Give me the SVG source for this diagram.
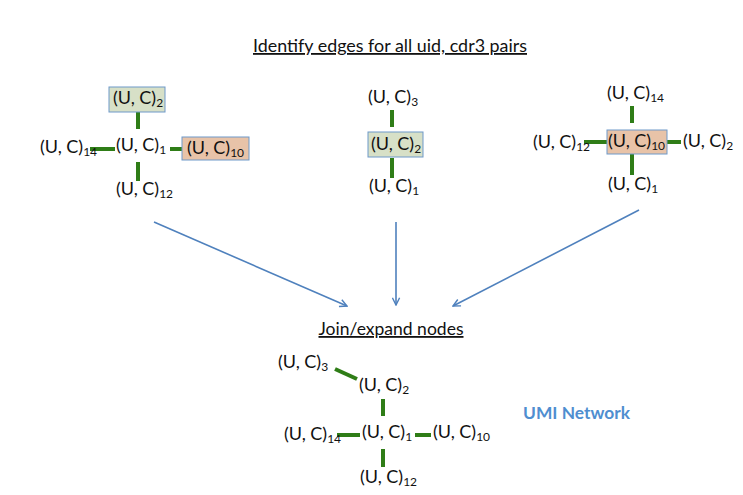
<svg xmlns="http://www.w3.org/2000/svg" width="743" height="495" viewBox="0 0 743 495">
<defs>
<style>
text{font-family:Lato,"Open Sans","Liberation Sans",sans-serif;font-size:18px;fill:#111}
.sub{font-size:12px}
.edge{stroke:#2f7d17;stroke-width:4;fill:none}
.arrow{stroke:#4f81bd;stroke-width:1.6;fill:none;marker-end:url(#ah)}
.gbox{fill:#d7e0c7;stroke:#6e99c9;stroke-width:1}
.obox{fill:#e8c3a8;stroke:#6e99c9;stroke-width:1}
.title{text-decoration:underline}
</style>
<marker id="ah" viewBox="0 0 10 10" refX="9" refY="5" markerWidth="9" markerHeight="9" markerUnits="userSpaceOnUse" orient="auto">
<path d="M1,1 L9,5 L1,9" fill="none" stroke="#4f81bd" stroke-width="1.6"/>
</marker>
</defs>
<rect width="743" height="495" fill="#fff"/>

<text class="title" x="390" y="52" text-anchor="middle" textLength="274" lengthAdjust="spacingAndGlyphs">Identify edges for all uid, cdr3 pairs</text>

<g id="connectors">
<line class="edge" x1="138" y1="112" x2="138" y2="129"/>
<line class="edge" x1="90" y1="149" x2="115" y2="149"/>
<line class="edge" x1="170" y1="149" x2="186" y2="149"/>
<line class="edge" x1="138" y1="162" x2="138" y2="181"/>
<line class="edge" x1="392" y1="110" x2="392" y2="127"/>
<line class="edge" x1="392" y1="158" x2="392" y2="178"/>
<line class="edge" x1="632" y1="106" x2="632" y2="123"/>
<line class="edge" x1="584" y1="142" x2="607" y2="142"/>
<line class="edge" x1="663" y1="142" x2="681" y2="142"/>
<line class="edge" x1="632" y1="154" x2="632" y2="175"/>
<line class="edge" x1="335" y1="369" x2="357" y2="379"/>
<line class="edge" x1="383" y1="399" x2="383" y2="416"/>
<line class="edge" x1="337" y1="435" x2="360" y2="435"/>
<line class="edge" x1="415" y1="435" x2="431" y2="435"/>
<line class="edge" x1="383" y1="449" x2="383" y2="467"/>
<line class="arrow" x1="154" y1="222" x2="347" y2="306"/>
<line class="arrow" x1="396" y1="222" x2="396" y2="305"/>
<line class="arrow" x1="639" y1="210" x2="453" y2="306"/>
</g>

<g id="L-uc2"><rect class="gbox" x="109" y="87" width="56" height="25"/><text x="113" y="104">(U, C)<tspan class="sub" dy="3">2</tspan></text></g>
<g id="L-uc1"><text x="116" y="151">(U, C)<tspan class="sub" dy="3">1</tspan></text></g>
<g id="L-uc14"><text x="40" y="153">(U, C)<tspan class="sub" dy="3">14</tspan></text></g>
<g id="L-uc10"><rect class="obox" x="182" y="137" width="67" height="23"/><text x="187" y="154">(U, C)<tspan class="sub" dy="3">10</tspan></text></g>
<g id="L-uc12"><text x="116" y="195">(U, C)<tspan class="sub" dy="3">12</tspan></text></g>

<g id="M-uc3"><text x="368" y="103">(U, C)<tspan class="sub" dy="3">3</tspan></text></g>
<g id="M-uc2"><rect class="gbox" x="368" y="132" width="55" height="25"/><text x="371" y="150">(U, C)<tspan class="sub" dy="3">2</tspan></text></g>
<g id="M-uc1"><text x="369" y="192">(U, C)<tspan class="sub" dy="3">1</tspan></text></g>

<g id="R-uc14"><text x="607" y="99">(U, C)<tspan class="sub" dy="3">14</tspan></text></g>
<g id="R-uc10"><rect class="obox" x="607" y="130" width="60" height="24"/><text x="608" y="147">(U, C)<tspan class="sub" dy="3">10</tspan></text></g>
<g id="R-uc12"><text x="533" y="148">(U, C)<tspan class="sub" dy="3">12</tspan></text></g>
<g id="R-uc2"><text x="683" y="147">(U, C)<tspan class="sub" dy="3">2</tspan></text></g>
<g id="R-uc1"><text x="608" y="190">(U, C)<tspan class="sub" dy="3">1</tspan></text></g>

<text class="title" x="391" y="335" text-anchor="middle" textLength="145" lengthAdjust="spacingAndGlyphs">Join/expand nodes</text>

<g id="B-uc3"><text x="278" y="368">(U, C)<tspan class="sub" dy="3">3</tspan></text></g>
<g id="B-uc2"><text x="359" y="391">(U, C)<tspan class="sub" dy="3">2</tspan></text></g>
<g id="B-uc1"><text x="362" y="438">(U, C)<tspan class="sub" dy="3">1</tspan></text></g>
<g id="B-uc14"><text x="284" y="440">(U, C)<tspan class="sub" dy="3">14</tspan></text></g>
<g id="B-uc10"><text x="433" y="438">(U, C)<tspan class="sub" dy="3">10</tspan></text></g>
<g id="B-uc12"><text x="360" y="483">(U, C)<tspan class="sub" dy="3">12</tspan></text></g>

<text x="523" y="419" textLength="107" lengthAdjust="spacingAndGlyphs" style="font-weight:bold;font-size:17px;fill:#4f8ed0">UMI Network</text>
</svg>
